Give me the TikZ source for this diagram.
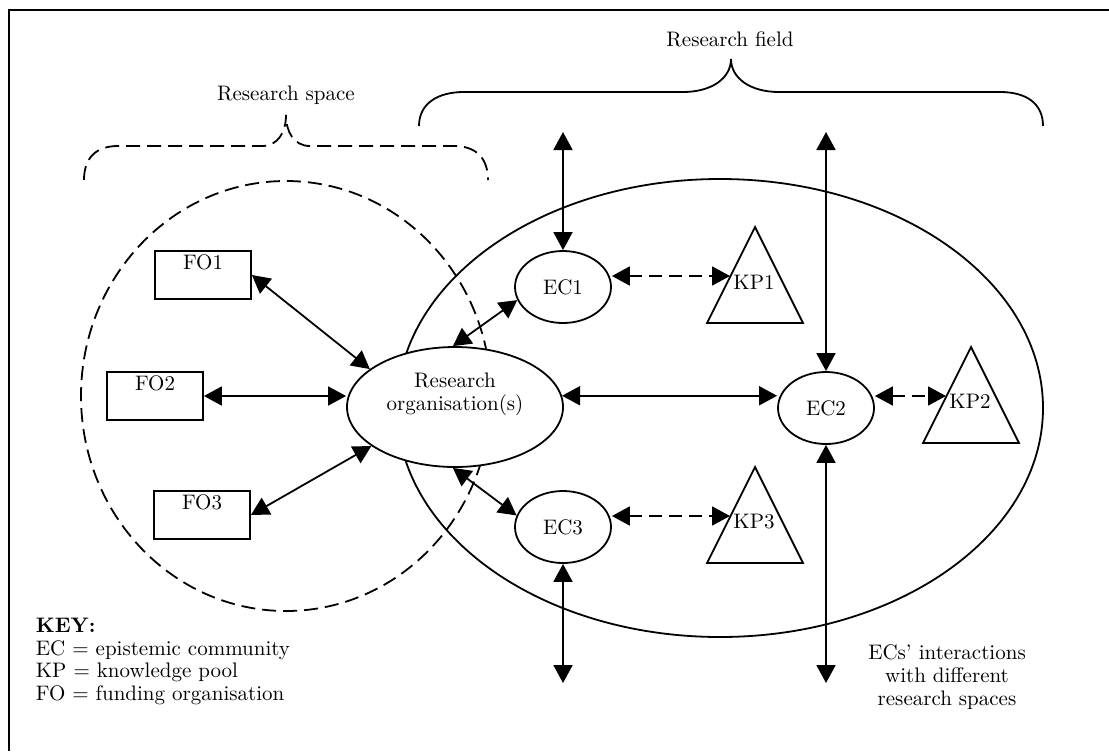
\documentclass[tikz,border=0pt]{standalone}
\usepackage{fontspec}
\usetikzlibrary{arrows.meta,shapes.geometric}
\begin{document}
\begin{tikzpicture}[x=0.5pt,y=-0.5pt,
  font=\fontsize{10.5}{11.4}\selectfont,
  line width=0.9pt,
  >={Triangle[length=9pt,width=9.5pt]},
  ell/.style={draw,ellipse,fill=white,inner sep=0pt},
  ecnode/.style={ell,minimum width=48pt,minimum height=36pt},
  fobox/.style={draw,rectangle,fill=white,minimum width=48pt,minimum height=24pt,inner sep=0pt},
  link/.style={<->},
  dlink/.style={<->,dash pattern=on 6.5pt off 3.5pt},
  dsh/.style={dash pattern=on 7pt off 3.5pt},
  tri/.style={draw,line join=miter},
  frame/.style={line width=1pt}
]
\useasboundingbox (0,0) rectangle (1109,751);
% frame (cropped: only top and left edges visible)
\draw[frame] (9,751) -- (9,10) -- (1109,10);

% research field and research space
\draw (720,408) ellipse [x radius=161.5pt, y radius=114.5pt];
\draw[dsh] (286,396) ellipse [x radius=102.5pt, y radius=107.5pt];

% braces
\draw[dsh] (84,180) .. controls (84,158) and (96,146) .. (118,146) -- (262,146)
  .. controls (278,146) and (286,132) .. (286,115)
  .. controls (286,132) and (294,146) .. (310,146) -- (454,146)
  .. controls (476,146) and (488,158) .. (488,180);
\draw (419,126) .. controls (419,104) and (437,92) .. (464,92) -- (683,92)
  .. controls (712,92) and (731,78) .. (731,59)
  .. controls (731,78) and (750,92) .. (779,92) -- (1000,92)
  .. controls (1027,92) and (1043,104) .. (1043,126);
\node (rs) at (286,95) {Research space};
\node (rf) at (730,39) {Research field};

% knowledge pools
\draw[tri] (755,227) -- (803,323) -- (707,323) -- cycle;
\draw[tri] (971,347) -- (1019,443) -- (923,443) -- cycle;
\draw[tri] (755,467) -- (803,563) -- (707,563) -- cycle;
\node (KP1) at (754,282) {KP1};
\node (KP2) at (970,401) {KP2};
\node (KP3) at (754,522) {KP3};
\coordinate (k1) at (730,276);
\coordinate (k2) at (946,396);
\coordinate (k3) at (730,516);

% nodes
\node[ell,minimum width=108pt,minimum height=60pt] (RO) at (455,407) {};
\node[align=center] (ROt) at (455,394) {Research\\organisation(s)};
\node[ecnode] (EC1) at (563,287) {EC1};
\node[ecnode] (EC2) at (826,408) {EC2};
\node[ecnode] (EC3) at (563,527) {EC3};
\node[fobox,label={[anchor=north,inner sep=2pt]north:FO1}] (FO1) at (203,275) {};
\node[fobox,label={[anchor=north,inner sep=2pt]north:FO2}] (FO2) at (155,396) {};
\node[fobox,label={[anchor=north,inner sep=2pt]north:FO3}] (FO3) at (202,515) {};

% free ends of the vertical arrows
\coordinate (t1) at (563,132);
\coordinate (t2) at (826,132);
\coordinate (b2) at (826,683);
\coordinate (b3) at (563,683);

% connectors
\draw[link] (FO1.east) -- (RO.156);
\draw[link] (FO2.east) -- (FO2.east -| RO.west);
\draw[link] (FO3.east) -- (RO.205);
\draw[link] (RO.92) -- (EC1.196);
\draw[link] (RO.268) -- (EC3.166);
\draw[link] (RO.6) -- (RO.6 -| EC2.west);
\draw[link] (t1) -- (EC1.north);
\draw[link] (t2) -- (EC2.north);
\draw[link] (EC2.south) -- (b2);
\draw[link] (EC3.south) -- (b3);
\draw[dlink] (EC1.east |- k1) -- (k1);
\draw[dlink] (EC2.east |- k2) -- (k2);
\draw[dlink] (EC3.east |- k3) -- (k3);

% texts
\node[anchor=north west,align=left,inner sep=0pt] (key) at (35,617)
  {\textbf{KEY:}\\EC = epistemic community\\KP = knowledge pool\\FO = funding organisation};
\node[align=center] (note) at (947,677) {ECs' interactions\\with different\\research spaces};
\end{tikzpicture}
\end{document}
